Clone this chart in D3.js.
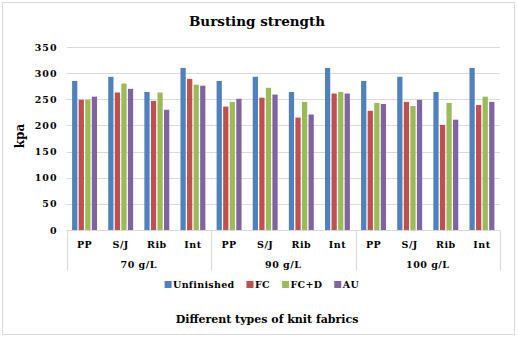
<!DOCTYPE html>
<html>
<head>
<meta charset="utf-8">
<script src="https://cdn.jsdelivr.net/npm/d3@7"></script>
<style>
  body { margin: 0; background: #fff; }
  text { font-family: "DejaVu Serif", serif; fill: #000; }
</style>
</head>
<body>
<script>
// fabric types within each concentration
var fabrics = ["PP", "S/J", "Rib", "Int"];
var concentrations = ["70 g/L", "90 g/L", "100 g/L"];
var seriesNames = ["Unfinished", "FC", "FC+D", "AU"];
var seriesColors = ["#4F81BD", "#C0504D", "#9BBB59", "#8064A2"];
var yTicks = [0, 50, 100, 150, 200, 250, 300, 350];

// values per series, 12 entries: 70 g/L (PP,S/J,Rib,Int), 90 g/L, 100 g/L
var unfinished = [285, 293, 264, 310, 285, 293, 264, 310, 285, 293, 264, 310];
var fc         = [249, 263, 247, 289, 236, 253, 215, 261, 228, 245, 201, 239];
var fcd        = [249, 280, 263, 278, 245, 272, 245, 264, 243, 237, 243, 255];
var au         = [255, 270, 230, 276, 251, 259, 221, 261, 241, 249, 211, 245];
var seriesValues = [unfinished, fc, fcd, au];

var W = 518, H = 338;
var margin = {left: 66.5, right: 18, top: 47, bottom: 108};

var svg = d3.select("body").append("svg")
    .attr("width", W)
    .attr("height", H);

// chart border
svg.append("rect")
    .attr("x", 2.5).attr("y", 2.5)
    .attr("width", 512).attr("height", 332)
    .attr("fill", "#fff")
    .attr("stroke", "#d9d9d9");

var keys = [];
concentrations.forEach(function(c){
    fabrics.forEach(function(f){ keys.push(c + "|" + f); });
});

var x0 = d3.scaleBand()
    .domain(keys)
    .range([margin.left, W - margin.right]);

var x1 = d3.scaleBand()
    .domain(seriesNames)
    .range([5.6, x0.bandwidth() - 5.6])
    .paddingInner(0.2);

var y = d3.scaleLinear()
    .domain([0, 350])
    .range([H - margin.bottom, margin.top]);

// gridlines
svg.append("g")
    .selectAll("line")
    .data(yTicks.slice(1))
    .enter()
    .append("line")
    .attr("x1", margin.left).attr("x2", W - margin.right)
    .attr("y1", function(d){ return Math.round(y(d)) + 0.5; })
    .attr("y2", function(d){ return Math.round(y(d)) + 0.5; })
    .attr("stroke", "#d9d9d9")
    .attr("stroke-width", 1.2);

// y axis labels
var yAxis = d3.axisLeft(y).tickValues(yTicks).tickSize(0).tickPadding(9);
var gy = svg.append("g")
    .attr("transform", "translate(" + margin.left + ",0)")
    .call(yAxis);
gy.select(".domain").remove();
gy.selectAll("text")
    .style("font-family", "'DejaVu Serif', serif")
    .style("font-size", "9.5px")
    .style("font-weight", "bold")
    .style("letter-spacing", "1px");

// bars
var groups = svg.append("g")
    .selectAll("g")
    .data(keys)
    .enter()
    .append("g")
    .attr("transform", function(d){ return "translate(" + x0(d) + ",0)"; });

groups.selectAll("rect")
    .data(function(d, i){
        return seriesNames.map(function(s, j){ return {name: s, value: seriesValues[j][i], color: seriesColors[j]}; });
    })
    .enter()
    .append("rect")
    .attr("x", function(d){ return x1(d.name); })
    .attr("width", x1.bandwidth())
    .attr("y", function(d){ return y(d.value); })
    .attr("height", function(d){ return y(0) - y(d.value); })
    .attr("fill", function(d){ return d.color; });

// baseline and group separators
var base = Math.round(y(0)) + 0.5;
svg.append("line")
    .attr("x1", margin.left).attr("x2", W - margin.right)
    .attr("y1", base).attr("y2", base)
    .attr("stroke", "#d9d9d9").attr("stroke-width", 1.2);

var sepX = [0, 4, 8, 12].map(function(i){
    return i < 12 ? x0(keys[i]) : x0(keys[11]) + x0.bandwidth();
});
svg.append("g")
    .selectAll("line")
    .data(sepX)
    .enter()
    .append("line")
    .attr("x1", function(d){ return Math.round(d) + 0.5; })
    .attr("x2", function(d){ return Math.round(d) + 0.5; })
    .attr("y1", base).attr("y2", base + 40)
    .attr("stroke", "#d9d9d9").attr("stroke-width", 1.2);

// fabric labels
svg.append("g")
    .selectAll("text")
    .data(keys)
    .enter()
    .append("text")
    .attr("x", function(d){ return x0(d) + x0.bandwidth() / 2; })
    .attr("y", base + 17)
    .attr("text-anchor", "middle")
    .style("font-size", "9.5px")
    .style("font-weight", "bold")
    .style("letter-spacing", "0.5px")
    .text(function(d){ return d.split("|")[1]; });

// concentration labels
svg.append("g")
    .selectAll("text")
    .data(concentrations)
    .enter()
    .append("text")
    .attr("x", function(d, i){ return (sepX[i] + sepX[i + 1]) / 2; })
    .attr("y", base + 37)
    .attr("text-anchor", "middle")
    .style("font-size", "9.5px")
    .style("font-weight", "bold")
    .style("letter-spacing", "0.5px")
    .text(function(d){ return d; });

// legend, laid out left to right from the measured label widths
var legend = svg.append("g")
    .selectAll("g")
    .data(seriesNames)
    .enter()
    .append("g");
legend.append("rect")
    .attr("y", 281)
    .attr("width", 7).attr("height", 7)
    .attr("fill", function(d, i){ return seriesColors[i]; });
legend.append("text")
    .attr("x", 8.5).attr("y", 288)
    .style("font-size", "9.5px")
    .style("font-weight", "bold")
    .style("letter-spacing", "0.3px")
    .text(function(d){ return d; });
var lx = 0, offsets = [];
legend.each(function(){
    offsets.push(lx);
    lx += this.getBBox().width + 12;
});
var legendStart = 262 - (lx - 12) / 2;
legend.attr("transform", function(d, i){ return "translate(" + (legendStart + offsets[i]) + ",0)"; });

// titles
svg.append("text")
    .attr("x", 257).attr("y", 26)
    .attr("text-anchor", "middle")
    .style("font-size", "13.5px")
    .style("font-weight", "bold")
    .text("Bursting strength");

svg.append("text")
    .attr("x", 267).attr("y", 323)
    .attr("text-anchor", "middle")
    .style("font-size", "11px")
    .style("font-weight", "bold")
    .text("Different types of knit fabrics");

svg.append("text")
    .attr("transform", "translate(24,136) rotate(-90)")
    .attr("text-anchor", "middle")
    .style("font-size", "12px")
    .style("font-weight", "bold")
    .text("kpa");
</script>
</body>
</html>
